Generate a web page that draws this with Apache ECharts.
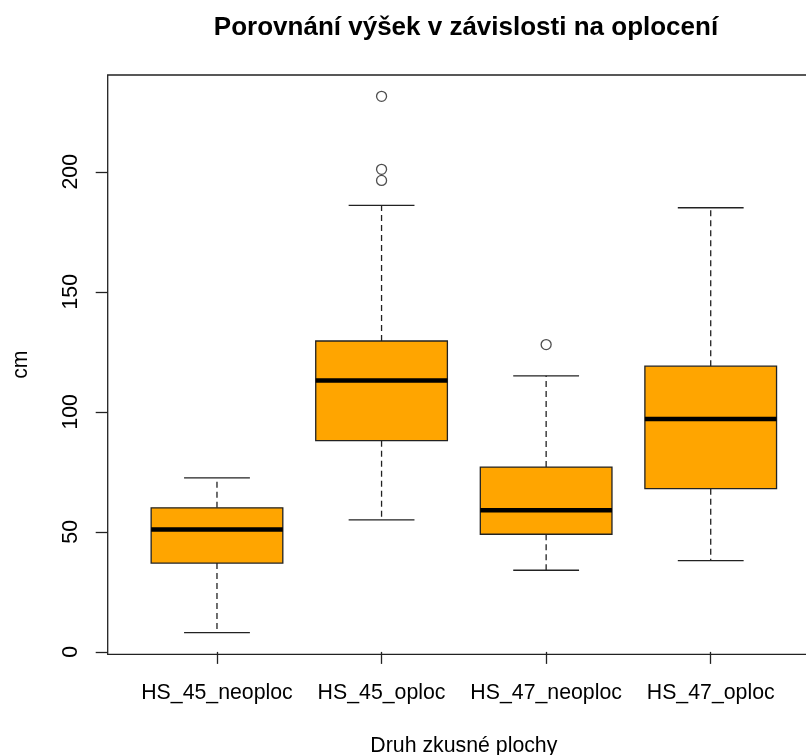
<!DOCTYPE html>
<html>
<head>
<meta charset="utf-8">
<script src="https://cdn.jsdelivr.net/npm/echarts@6/dist/echarts.min.js"></script>
<style>
  html, body { margin: 0; padding: 0; background: #fff; }
  #chart { width: 806px; height: 755px; }
</style>
</head>
<body>
<div id="chart"></div>
<script>
// plochy (kategorie) a pětičíselné souhrny boxplotu
const categories = ['HS_45_neoploc', 'HS_45_oploc', 'HS_47_neoploc', 'HS_47_oploc'];
const whiskerLow = [8, 55, 34, 38];
const q1 = [37, 88, 49, 68];
const median = [51, 113, 59, 97];
const q3 = [60, 129.5, 77, 119];
const whiskerHigh = [72.5, 186, 115, 185];
// odlehlé hodnoty: [poradi plochy, cm]
const outliers = [[2, 196.4], [2, 201], [2, 231.4], [3, 128]];
const yTicks = [0, 50, 100, 150, 200];
const xTicks = [1, 2, 3, 4];

const font = "'Liberation Sans', Arial, sans-serif";
const lineColor = '#222';
const boxFill = '#FFA500';

const boxData = categories.map((c, i) => [i + 1, whiskerLow[i], q1[i], median[i], q3[i], whiskerHigh[i]]);

function renderBox(params, api) {
  const x = api.value(0);
  const low = api.coord([x, api.value(1)]);
  const b1 = api.coord([x, api.value(2)]);
  const med = api.coord([x, api.value(3)]);
  const b3 = api.coord([x, api.value(4)]);
  const high = api.coord([x, api.value(5)]);
  const halfBox = api.size([0.4, 0])[0];
  const halfCap = api.size([0.2, 0])[0];
  const cx = low[0];
  const dashed = { stroke: lineColor, lineWidth: 1.3, lineDash: [6, 4] };
  const solid = { stroke: lineColor, lineWidth: 1.3 };
  return {
    type: 'group',
    children: [
      { type: 'line', shape: { x1: cx, y1: b1[1], x2: cx, y2: low[1] }, style: dashed },
      { type: 'line', shape: { x1: cx, y1: b3[1], x2: cx, y2: high[1] }, style: dashed },
      { type: 'line', shape: { x1: cx - halfCap, y1: low[1], x2: cx + halfCap, y2: low[1] }, style: solid },
      { type: 'line', shape: { x1: cx - halfCap, y1: high[1], x2: cx + halfCap, y2: high[1] }, style: solid },
      {
        type: 'rect',
        shape: { x: cx - halfBox, y: b3[1], width: halfBox * 2, height: b1[1] - b3[1] },
        style: { fill: boxFill, stroke: lineColor, lineWidth: 1.3 }
      },
      { type: 'line', shape: { x1: cx - halfBox, y1: med[1], x2: cx + halfBox, y2: med[1] }, style: { stroke: '#000', lineWidth: 4.5 } }
    ]
  };
}

const chart = echarts.init(document.getElementById('chart'));
chart.setOption({
  animation: false,
  backgroundColor: '#fff',
  title: {
    text: 'Porovnání výšek v závislosti na oplocení',
    left: 461,
    top: 10,
    textAlign: 'center',
    textStyle: { fontFamily: font, fontSize: 26, fontWeight: 'bold', color: '#000' }
  },
  grid: {
    left: 107.7,
    right: -14,
    top: 75,
    bottom: 100.7,
    outerBoundsMode: 'none',
    containLabel: false,
    show: true,
    borderColor: lineColor,
    borderWidth: 1.3
  },
  xAxis: {
    type: 'value',
    min: 0.336,
    max: 4.664,
    name: 'Druh zkusné plochy',
    nameLocation: 'middle',
    nameGap: 81,
    nameTextStyle: { fontFamily: font, fontSize: 21.3, color: '#000' },
    axisLine: { show: false },
    axisTick: { show: true, length: 12, customValues: xTicks, lineStyle: { color: lineColor, width: 1.3 } },
    axisLabel: {
      customValues: xTicks,
      margin: 28,
      fontFamily: font,
      fontSize: 21.3,
      color: '#000',
      formatter: v => categories[Math.round(v) - 1] || ''
    },
    splitLine: { show: false }
  },
  yAxis: {
    type: 'value',
    min: -1,
    max: 240.3,
    name: 'cm',
    nameLocation: 'middle',
    nameGap: 76,
    nameTextStyle: { fontFamily: font, fontSize: 21.3, color: '#000' },
    axisLine: { show: false },
    axisTick: { show: true, length: 12, customValues: yTicks, lineStyle: { color: lineColor, width: 1.3 } },
    axisLabel: {
      customValues: yTicks,
      rotate: 90,
      margin: 26,
      fontFamily: font,
      fontSize: 21.3,
      color: '#000'
    },
    splitLine: { show: false }
  },
  series: [
    {
      type: 'custom',
      renderItem: renderBox,
      encode: { x: 0, y: [1, 2, 3, 4, 5] },
      data: boxData,
      z: 2
    },
    {
      type: 'scatter',
      data: outliers,
      symbol: 'circle',
      symbolSize: 10,
      itemStyle: { color: 'rgba(0,0,0,0)', borderColor: lineColor, borderWidth: 1.3 },
      z: 3
    }
  ]
});
</script>
</body>
</html>
